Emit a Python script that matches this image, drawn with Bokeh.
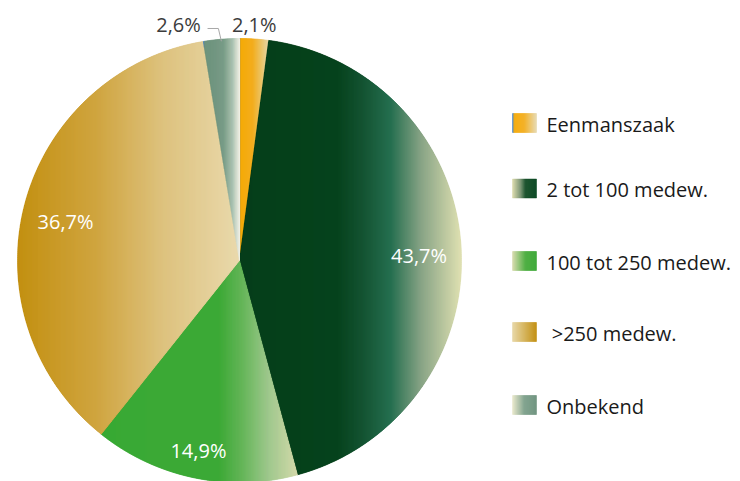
import math
from bokeh.plotting import figure
from bokeh.models import Range1d, ColumnDataSource
from bokeh.embed import file_html
from bokeh.resources import INLINE
from bokeh.core.properties import value

# ---------------- data ----------------
categories = ["Eenmanszaak", "2 tot 100 medew.", "100 tot 250 medew.", " >250 medew.", "Onbekend"]
shares = [2.1, 43.7, 14.9, 36.7, 2.6]
pct_labels = ["2,1%", "43,7%", "14,9%", "36,7%", "2,6%"]

# ---------------- style ----------------
slice_stops = [
    [(0.0, "#3f7fc4"), (0.03, "#f5a800"), (0.45, "#f2ab18"), (1.0, "#e6d6a6")],
    [(0.0, "#003a15"), (0.44, "#003e17"), (0.56, "#0f502e"), (0.68, "#1f6b4b"),
     (0.82, "#86a283"), (1.0, "#dfe0b0")],
    [(0.0, "#34a72f"), (0.6, "#38a832"), (0.72, "#62b455"), (0.85, "#9cc78a"), (1.0, "#d3d8a8")],
    [(0.0, "#c18d0b"), (0.35, "#cea23a"), (0.65, "#dcc07a"), (1.0, "#e9d8aa")],
    [(0.0, "#3f7fc4"), (0.03, "#6a8f7a"), (0.55, "#759a84"), (0.8, "#a8c0ae"), (1.0, "#f2f2e6")],
]
swatch_stops = [
    [(0.0, "#3f7fc4"), (0.06, "#f5a800"), (0.5, "#f3ac1a"), (1.0, "#e6d6a6")],
    [(0.0, "#d8d8a8"), (0.35, "#6f8c6a"), (0.55, "#0f4a22"), (1.0, "#00401a")],
    [(0.0, "#d3d8a8"), (0.55, "#45aa38"), (1.0, "#35a52f")],
    [(0.0, "#e6d4a0"), (1.0, "#c08c0a")],
    [(0.0, "#e6e6c8"), (0.5, "#7a9e88"), (1.0, "#6a8f7a")],
]
label_colors = ["#3c3c3c", "#ffffff", "#ffffff", "#ffffff", "#3c3c3c"]
label_rfac = [1.065, 0.809, 0.876, 0.803, 1.098]
label_dang = [0.2, -2.2, -0.5, 2.0, 9.8]

CX, CY, R = 239.0, 260.0, 222.0
LEG_X0, LEG_W, LEG_H, LEG_TX = 512.0, 24.0, 19.0, 546.0
LEG_Y = [122.5, 188.0, 260.5, 331.5, 404.5]
FONT = "Open Sans"
W, H = 740, 481


def hex2rgb(h):
    h = h.lstrip("#")
    return tuple(int(h[i:i + 2], 16) for i in (0, 2, 4))


def grad(stops, t):
    t = max(0.0, min(1.0, t))
    for (t0, c0), (t1, c1) in zip(stops[:-1], stops[1:]):
        if t <= t1:
            f = 0.0 if t1 == t0 else (t - t0) / (t1 - t0)
            a, b = hex2rgb(c0), hex2rgb(c1)
            return "#%02x%02x%02x" % tuple(round(a[i] + f * (b[i] - a[i])) for i in range(3))
    return stops[-1][1]


def clip(poly, x0, keep_greater):
    out = []
    n = len(poly)
    for i in range(n):
        cur, prev = poly[i], poly[i - 1]
        cin = cur[0] >= x0 if keep_greater else cur[0] <= x0
        pin = prev[0] >= x0 if keep_greater else prev[0] <= x0
        if cin:
            if not pin:
                t = (x0 - prev[0]) / (cur[0] - prev[0])
                out.append((x0, prev[1] + t * (cur[1] - prev[1])))
            out.append(cur)
        elif pin:
            t = (x0 - prev[0]) / (cur[0] - prev[0])
            out.append((x0, prev[1] + t * (cur[1] - prev[1])))
    return out


p = figure(width=W, height=H, x_range=Range1d(0, W), y_range=Range1d(H, 0),
           x_axis_type=None, y_axis_type=None, toolbar_location=None,
           output_backend="svg", min_border=0, outline_line_color=None)
p.grid.visible = False
p.background_fill_color = "white"
p.border_fill_color = "white"

# ---------------- pie slices as gradient strips ----------------
xs, ys, cols = [], [], []
total = sum(shares)
start = 90.0
mids = []
for k, s in enumerate(shares):
    sweep = s / total * 360.0
    a0, a1 = start, start - sweep
    mids.append((a0 + a1) / 2)
    n = max(4, int(sweep / 0.5))
    pts = [(CX, CY)]
    for i in range(n + 1):
        a = math.radians(a0 + (a1 - a0) * i / n)
        pts.append((CX + R * math.cos(a), CY - R * math.sin(a)))
    xmin = min(q[0] for q in pts)
    xmax = max(q[0] for q in pts)
    w = xmax - xmin
    x = xmin
    while x < xmax:
        strip = clip(clip(pts, x, True), min(x + 1.0, xmax), False)
        if len(strip) >= 3:
            xs.append([q[0] for q in strip])
            ys.append([q[1] for q in strip])
            cols.append(grad(slice_stops[k], (x - xmin) / w))
        x += 1.0
    start = a1

src = ColumnDataSource(dict(xs=xs, ys=ys, c=cols))
p.patches("xs", "ys", source=src, fill_color="c", line_color="c", line_width=0.7)

# ---------------- percent labels ----------------
lx, ly = [], []
for k in range(len(shares)):
    a = math.radians(mids[k] + label_dang[k])
    lx.append(CX + label_rfac[k] * R * math.cos(a))
    ly.append(CY - label_rfac[k] * R * math.sin(a))
p.text(x=lx, y=ly, text=pct_labels, text_color=label_colors,
       text_font=value(FONT), text_font_size="20px",
       text_align="center", text_baseline="middle")

# leader line for the last (small) slice
m = math.radians(mids[4])
ax, ay = CX + R * math.cos(m), CY - R * math.sin(m)
p.line([lx[4] + 29, ax - 3, ax], [ly[4] + 4, ly[4] + 4, ay + 2],
       line_color="#a8a8a8", line_width=1)

# ---------------- legend ----------------
qx0, qx1, qy0, qy1, qc = [], [], [], [], []
for k, yc in enumerate(LEG_Y):
    for i in range(int(LEG_W)):
        qx0.append(LEG_X0 + i)
        qx1.append(LEG_X0 + i + 1)
        qy0.append(yc - LEG_H / 2)
        qy1.append(yc + LEG_H / 2)
        qc.append(grad(swatch_stops[k], i / (LEG_W - 1)))
p.quad(left=qx0, right=qx1, bottom=qy1, top=qy0, fill_color=qc, line_color=qc, line_width=0.5)
# keep leading spaces visible (SVG collapses normal leading whitespace)
legend_texts = [c.replace(" ", "\u00a0", 1) if c.startswith(" ") else c for c in categories]
p.text(x=[LEG_TX] * len(categories), y=[y + 1 for y in LEG_Y], text=legend_texts,
       text_color="#1a1a1a", text_font=value(FONT), text_font_size="20px",
       text_align="left", text_baseline="middle")

open("out.html", "w").write(file_html(p, INLINE))
